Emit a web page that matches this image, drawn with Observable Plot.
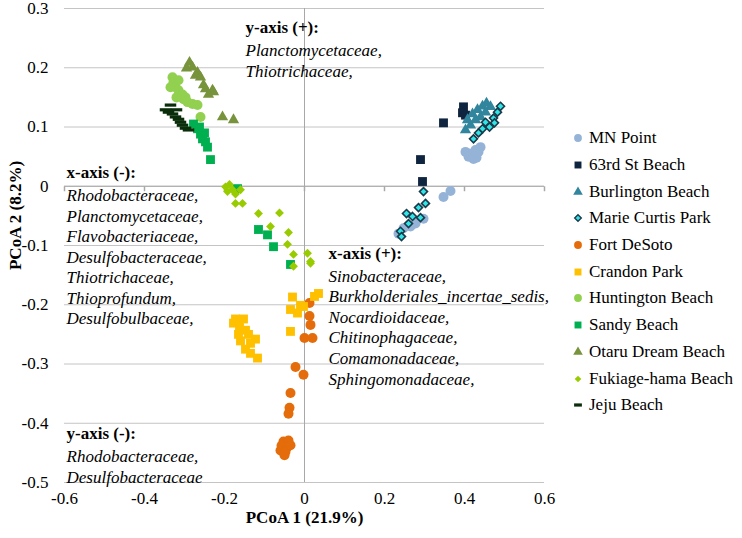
<!DOCTYPE html>
<html><head><meta charset="utf-8">
<script src="https://cdn.jsdelivr.net/npm/d3@7"></script>
<script src="https://cdn.jsdelivr.net/npm/@observablehq/plot@0.6"></script>
<style>
body{margin:0;background:#fff;}
#wrap{position:relative;width:742px;height:538px;font-family:"Liberation Serif","DejaVu Serif",serif;}
#legend{position:absolute;left:572px;top:125px;}
.row{height:26.7px;display:flex;align-items:center;font-size:17px;color:#000;white-space:nowrap;}
.row svg{width:12px;height:12px;margin-right:5px;}
</style></head><body><div id="wrap"><div id="chart"></div><div id="legend"></div></div>
<script>
// ---- data ----
const xTicks = [-0.6, -0.4, -0.2, 0, 0.2, 0.4, 0.6];
const xTickLabels = ["-0.6", "-0.4", "-0.2", "0", "0.2", "0.4", "0.6"];
const yTicks = [0.3, 0.2, 0.1, 0, -0.1, -0.2, -0.3, -0.4, -0.5];
const yTickLabels = ["0.3", "0.2", "0.1", "0", "-0.1", "-0.2", "-0.3", "-0.4", "-0.5"];

const siteNames = ["MN Point", "63rd St Beach", "Burlington Beach", "Marie Curtis Park", "Fort DeSoto",
  "Crandon Park", "Huntington Beach", "Sandy Beach", "Otaru Dream Beach", "Fukiage-hama Beach", "Jeju Beach"];

const mnPoint = [[0.415,0.055],[0.4275,0.061],[0.435,0.058],[0.4225,0.046],[0.41,0.05],[0.44,0.066],[0.4025,0.058],[0.43,0.048],
  [0.365,-0.008],[0.3475,-0.018],[0.2975,-0.055],[0.2775,-0.063],[0.2475,-0.071],[0.235,-0.08],[0.265,-0.068]];
const stBeach63 = [[0.3975,0.134],[0.4025,0.12],[0.3475,0.107],[0.29,0.045],[0.295,0.008],[0.395,0.124]];
const burlington = [[0.4025,0.095],[0.4075,0.112],[0.42,0.122],[0.4325,0.129],[0.445,0.135],[0.455,0.14],[0.465,0.134],
  [0.44,0.117],[0.415,0.103],[0.4275,0.112],[0.4525,0.125]];
const marieCurtis = [[0.49,0.135],[0.4825,0.125],[0.4725,0.115],[0.475,0.107],[0.4625,0.1],[0.445,0.097],[0.435,0.09],
  [0.4225,0.08],[0.4525,0.108],[0.2975,-0.009],[0.3025,-0.029],[0.285,-0.036],[0.27,-0.051],[0.29,-0.053],[0.255,-0.046],
  [0.24,-0.076],[0.26,-0.063],[0.2425,-0.085]];
const fortDeSoto = [[0.0125,-0.197],[0.0125,-0.219],[0.015,-0.234],[0,-0.256],[0.02,-0.256],[-0.0225,-0.305],[-0.0025,-0.318],
  [-0.035,-0.349],[-0.0375,-0.374],[-0.04,-0.384],[-0.0525,-0.431],[-0.04,-0.429],[-0.0575,-0.438],[-0.0425,-0.44],
  [-0.06,-0.446],[-0.0475,-0.448],[-0.035,-0.437],[-0.05,-0.454]];
const crandonPark = [[-0.03,-0.187],[0.025,-0.186],[0.035,-0.181],[-0.0025,-0.203],[-0.0175,-0.214],[-0.035,-0.208],
  [-0.035,-0.245],[-0.01,-0.201],[-0.1725,-0.224],[-0.1525,-0.224],[-0.1625,-0.236],[-0.1475,-0.243],[-0.165,-0.25],
  [-0.14,-0.25],[-0.16,-0.261],[-0.135,-0.265],[-0.1225,-0.258],[-0.1475,-0.275],[-0.135,-0.282],[-0.1175,-0.29],[-0.1775,-0.231]];
const huntington = [[-0.33,0.184],[-0.3275,0.176],[-0.3225,0.167],[-0.315,0.162],[-0.305,0.155],[-0.3025,0.147],
  [-0.2925,0.142],[-0.28,0.139],[-0.2675,0.137],[-0.2975,0.15],[-0.26,0.117],[-0.335,0.167],[-0.315,0.179],[-0.32,0.15]];
const sandyBeach = [[-0.2775,0.105],[-0.2675,0.097],[-0.26,0.088],[-0.255,0.08],[-0.2475,0.075],[-0.2425,0.066],
  [-0.2625,0.1],[-0.25,0.09],[-0.235,0.045],[-0.1675,-0.004],[-0.115,-0.073],[-0.0925,-0.082],[-0.0775,-0.102],[-0.035,-0.132]];
const otaru = [[-0.2875,0.209],[-0.28,0.201],[-0.2675,0.192],[-0.2725,0.187],[-0.26,0.184],[-0.2525,0.171],[-0.2475,0.164],
  [-0.23,0.162],[-0.2275,0.159],[-0.24,0.155],[-0.205,0.117],[-0.1775,0.112],[-0.295,0.199]];
const fukiage = [[-0.1975,-0.001],[-0.1925,-0.009],[-0.18,-0.006],[-0.1725,-0.013],[-0.16,-0.006],[-0.1875,0.003],
  [-0.1725,-0.029],[-0.155,-0.029],[-0.115,-0.046],[-0.0625,-0.045],[-0.085,-0.068],[-0.04,-0.078],[-0.0425,-0.098],
  [-0.0275,-0.115],[0.0075,-0.113],[0.015,-0.127],[-0.0275,-0.135],[0.015,-0.13]];
const jeju = [[-0.335,0.137],[-0.34,0.125],[-0.33,0.122],[-0.3225,0.117],[-0.315,0.113],[-0.31,0.108],[-0.305,0.103],
  [-0.2975,0.098],[-0.32,0.129],[-0.3475,0.129],[-0.29,0.095]];

const seriesValues = [mnPoint, stBeach63, burlington, marieCurtis, fortDeSoto, crandonPark, huntington, sandyBeach, otaru, fukiage, jeju];

const annotationHeaders = ["y-axis (+):", "x-axis (-):", "x-axis (+):", "y-axis (-):"];
const annotationBodies = [
  ["Planctomycetaceae,", "Thiotrichaceae,"],
  ["Rhodobacteraceae,", "Planctomycetaceae,", "Flavobacteriaceae,", "Desulfobacteraceae,", "Thiotrichaceae,", "Thioprofundum,", "Desulfobulbaceae,"],
  ["Sinobacteraceae,", "Burkholderiales_incertae_sedis,", "Nocardioidaceae,", "Chitinophagaceae,", "Comamonadaceae,", "Sphingomonadaceae,"],
  ["Rhodobacteraceae,", "Desulfobacteraceae"]
];
const xTitle = "PCoA 1 (21.9%)";
const yTitle = "PCoA 2 (8.2%)";

// ---- styling / layout ----
const FONT = "'Liberation Serif', 'DejaVu Serif', serif";
const dashSymbol = {draw(ctx, size) { const w = Math.sqrt(size) * 1.3; ctx.rect(-w / 2, -1.6, w, 3.2); }};
const tickDownSymbol = {draw(ctx) { ctx.moveTo(0, 0); ctx.lineTo(0, 5); }};
const seriesStyle = [
  {symbol: "circle", fill: "#95B3D7", r: 5},
  {symbol: "square", fill: "#0F243E", r: 5},
  {symbol: "triangle", fill: "#31859C", r: 4.2},
  {symbol: "diamond2", fill: "#2FE5E5", stroke: "#1B3A4B", strokeWidth: 1.6, r: 3.6},
  {symbol: "circle", fill: "#E46C0A", r: 5},
  {symbol: "square", fill: "#FFC000", r: 5},
  {symbol: "circle", fill: "#92D050", r: 5},
  {symbol: "square", fill: "#00B050", r: 5},
  {symbol: "triangle", fill: "#77933C", r: 4.2},
  {symbol: "diamond2", fill: "#99CC00", r: 4},
  {symbol: dashSymbol, fill: "#0A2E0A", r: 5}
];
const annotationAnchors = [[-0.1475, 0.268], [-0.595, 0.0227], [0.06, -0.1134], [-0.595, -0.4176]];

const rows = siteNames.flatMap((site, i) => seriesValues[i].map(([x, y]) => ({site, x, y})));
const annotations = annotationHeaders.map((h, i) => ({x: annotationAnchors[i][0], y: annotationAnchors[i][1], header: h, body: annotationBodies[i].join("\n")}));

const marks = [
  Plot.ruleY(yTicks, {stroke: "#C4C4C4", strokeWidth: 1}),
  Plot.ruleX([0], {stroke: "#A8A8A8", strokeWidth: 1}),
  Plot.ruleY([0], {stroke: "#A8A8A8", strokeWidth: 1}),
  Plot.dot(xTicks, {x: d => d, y: 0, symbol: tickDownSymbol, r: 3, stroke: "#A8A8A8", fill: "none"}),
  Plot.text(annotations, {x: "x", y: "y", text: "header", textAnchor: "start", fontWeight: "bold", fill: "#000"}),
  Plot.text(annotations, {x: "x", y: "y", text: "body", textAnchor: "start", fontStyle: "italic", lineAnchor: "top", dy: 14, lineHeight: 1.206, fill: "#000"}),
  ...siteNames.map((site, i) => {
    const s = seriesStyle[i];
    return Plot.dot(rows.filter(d => d.site === site), {x: "x", y: "y", symbol: s.symbol, r: s.r, fill: s.fill,
      stroke: s.stroke || "none", strokeWidth: s.strokeWidth || 0});
  }),
  Plot.text([xTitle], {frameAnchor: "bottom", dy: 40, text: d => d, fontWeight: "bold", fill: "#000"}),
  Plot.text([yTitle], {frameAnchor: "left", textAnchor: "middle", dx: -49, dy: -30, rotate: -90, text: d => d, fontWeight: "bold", fill: "#000"})
];

const chart = Plot.plot({
  width: 742, height: 538,
  marginLeft: 64, marginRight: 198, marginTop: 8, marginBottom: 56,
  x: {domain: [-0.6, 0.6], ticks: xTicks, tickFormat: d => xTickLabels[xTicks.indexOf(d)], tickSize: 0, tickPadding: 9, label: null},
  y: {domain: [-0.5, 0.3], ticks: yTicks, tickFormat: d => yTickLabels[yTicks.indexOf(d)], tickSize: 0, tickPadding: 16, label: null},
  style: {fontFamily: FONT, fontSize: "17px", color: "#000", background: "#fff", overflow: "visible"},
  marks
});
document.getElementById("chart").appendChild(chart);

// legend
const legend = d3.select("#legend");
siteNames.forEach((site, i) => {
  const s = seriesStyle[i];
  const row = legend.append("div").attr("class", "row");
  const svg = row.append("svg").attr("viewBox", "-6 -6 12 12");
  const type = typeof s.symbol === "string" ? {circle: d3.symbolCircle, square: d3.symbolSquare, triangle: d3.symbolTriangle, diamond2: d3.symbolDiamond2}[s.symbol] : s.symbol;
  const size = s.symbol === dashSymbol ? 36 : (s.symbol === "triangle" ? 40 : (s.symbol === "diamond2" ? 28 : 48));
  svg.append("path").attr("d", d3.symbol(type, size)()).attr("fill", s.fill)
    .attr("stroke", s.stroke || "none").attr("stroke-width", s.stroke ? 1.4 : 0);
  row.append("span").text(site);
});
</script>
</body></html>
